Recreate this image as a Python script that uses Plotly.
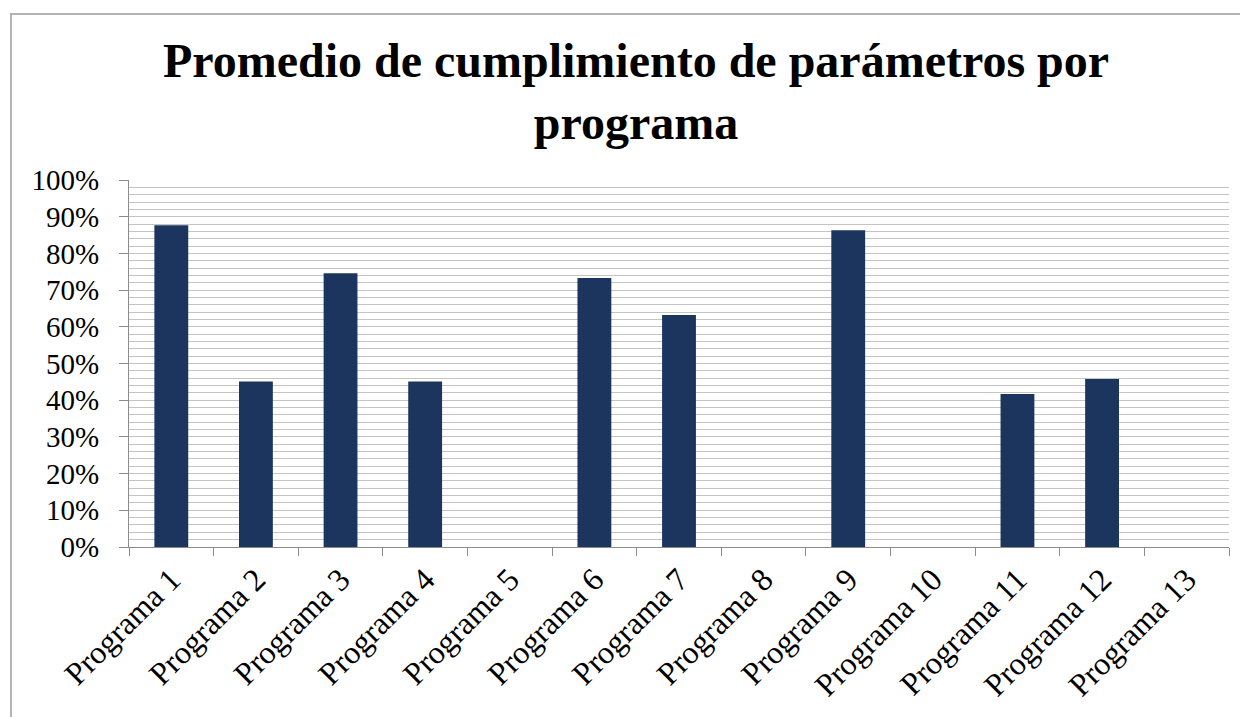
import plotly.graph_objects as go

categories = ["Programa 1", "Programa 2", "Programa 3", "Programa 4", "Programa 5",
              "Programa 6", "Programa 7", "Programa 8", "Programa 9", "Programa 10",
              "Programa 11", "Programa 12", "Programa 13"]
values = [0.877, 0.451, 0.746, 0.451, 0.0, 0.733, 0.632, 0.0, 0.863, 0.0, 0.417, 0.458, 0.0]
title_text = "Promedio de cumplimiento de parámetros por<br>programa"

# page body has an 8px default margin; figure is sized to fit inside the window
OFF = 8
W, H = 1248 - OFF, 717 - OFF
L, T = 129 - OFF, 180 - OFF
R = W - (1229 - OFF)
B = H - (547 - OFF)
pw, ph = W - L - R, H - T - B

def px_x(px):
    return (px - OFF - L) / pw

def px_y(py):
    return (H - B - (py - OFF)) / ph

font = "Liberation Serif, Times New Roman, serif"

fig = go.Figure(go.Bar(x=categories, y=values, marker=dict(color="#1c355e", line=dict(width=0)),
                       width=0.4))

fig.update_layout(
    width=W, height=H, autosize=False,
    margin=dict(l=L, r=R, t=T, b=B, autoexpand=False),
    paper_bgcolor="white", plot_bgcolor="white",
    showlegend=False,
    font=dict(family=font, color="black"),
    title=dict(text="<b>" + title_text + "</b>", x=(636 - OFF) / W, xanchor="center",
               y=1 - 69 / H, yanchor="middle", yref="container",
               font=dict(family=font, size=48, color="black")),
    shapes=[dict(type="rect", xref="paper", yref="paper",
                 x0=px_x(11), x1=px_x(1270), y0=px_y(740), y1=px_y(14),
                 line=dict(color="#b3b3b3", width=2), fillcolor="rgba(0,0,0,0)", layer="below")],
)

fig.update_yaxes(range=[0, 1], dtick=0.1, tickformat=".0%", showgrid=True,
                 gridcolor="#c4c4c4", gridwidth=1, automargin=False,
                 minor=dict(dtick=0.02, showgrid=True, gridcolor="#c4c4c4", gridwidth=1),
                 showline=True, linecolor="#8c8c8c", linewidth=1,
                 ticks="outside", ticklen=9, tickcolor="#8c8c8c", ticklabelstandoff=14,
                 tickfont=dict(family=font, size=29, color="black"), zeroline=False)
fig.update_xaxes(type="category", showline=True, linecolor="#8c8c8c", linewidth=1,
                 ticks="outside", ticklen=8, tickcolor="#8c8c8c", tickson="boundaries",
                 tickangle=-45, showgrid=False, automargin=False,
                 tickfont=dict(family=font, size=32, color="black"))

fig.write_html("out.html")
